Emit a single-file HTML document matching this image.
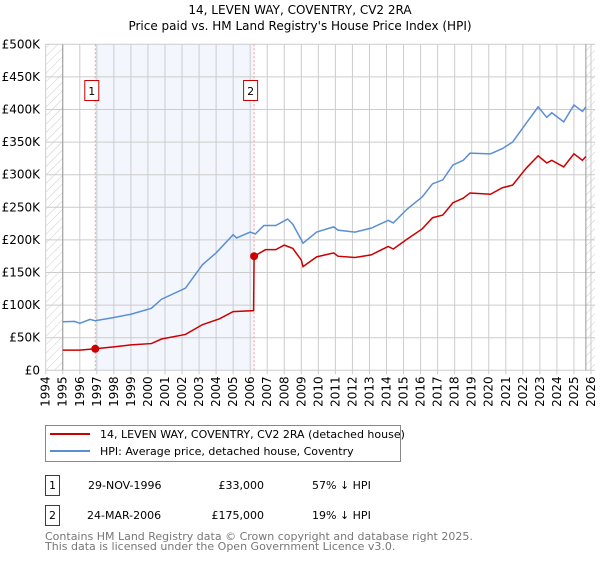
<!DOCTYPE html>
<html><head><meta charset="utf-8"><style>
body{margin:0;background:#fff;font-family:"Liberation Sans","DejaVu Sans",sans-serif;}
svg text{font-family:"DejaVu Sans","Liberation Sans",sans-serif;}
</style></head><body>
<svg id="c" width="600" height="560" xmlns="http://www.w3.org/2000/svg">
<defs><pattern id="h" width="6" height="6" patternUnits="userSpaceOnUse" patternTransform="rotate(45)"><line x1="0" y1="0" x2="0" y2="6" stroke="#ccc" stroke-width="1"/></pattern></defs>
<text x="300" y="14" text-anchor="middle" font-size="12">14, LEVEN WAY, COVENTRY, CV2 2RA</text>
<text x="300" y="30" text-anchor="middle" font-size="12">Price paid vs. HM Land Registry's House Price Index (HPI)</text>
<g id="plot"></g>
<g>
<rect x="45.5" y="425.5" width="355" height="36" fill="#fff" stroke="#888"/>
<line x1="50" y1="434" x2="90" y2="434" stroke="#cc0000" stroke-width="2"/>
<text x="100" y="438" font-size="11">14, LEVEN WAY, COVENTRY, CV2 2RA (detached house)</text>
<line x1="50" y1="451" x2="90" y2="451" stroke="#5b8fd4" stroke-width="2"/>
<text x="100" y="455" font-size="11">HPI: Average price, detached house, Coventry</text>
</g>
<g font-size="11">
<rect x="45.5" y="475.5" width="14" height="20" fill="#fff" stroke="#cc0000"/><text x="52.5" y="489" text-anchor="middle">1</text>
<text x="88" y="489">29-NOV-1996</text><text x="264" y="489" text-anchor="end">£33,000</text><text x="312" y="489">57% ↓ HPI</text>
<rect x="45.5" y="505.5" width="14" height="20" fill="#fff" stroke="#cc0000"/><text x="52.5" y="519" text-anchor="middle">2</text>
<text x="87" y="519">24-MAR-2006</text><text x="264" y="519" text-anchor="end">£175,000</text><text x="312" y="519">19% ↓ HPI</text>
</g>
<text x="45" y="540" font-size="11" fill="#777">Contains HM Land Registry data © Crown copyright and database right 2025.</text>
<text x="45" y="550" font-size="11" fill="#777">This data is licensed under the Open Government Licence v3.0.</text>
</svg>
<script>
const hpiYears=[1995,1995.7,1996,1996.6,1996.9,1998,1999,2000.2,2000.8,2002.2,2003.2,2004,2005,2005.2,2006,2006.3,2006.8,2007.5,2008.2,2008.5,2009.0,2009.1,2009.9,2010.9,2011.15,2012.15,2013.1,2014.1,2014.4,2015.2,2016.1,2016.7,2017.3,2017.9,2018.5,2018.9,2020.1,2020.8,2021.4,2022.2,2022.9,2023.4,2023.7,2024.4,2025.0,2025.5,2025.7];
const hpiValues=[74.5,75,72,78,76,81,86,95,109,126,162,180,208,203,212,209,222,222,232,224,200,195,212,220,215,212,218,230,226,247,266,286,292,315,322,333,332,340,350,379,404,388,395,381,407,397,404];
const ppYears=[1995,1996,1996.91,1998,1999,2000.2,2000.8,2002.2,2003.2,2004.2,2005,2006.2,2006.23,2006.9,2007.5,2008,2008.5,2009.0,2009.1,2009.9,2010.9,2011.15,2012.15,2013.1,2014.1,2014.4,2015.2,2016.1,2016.7,2017.3,2017.9,2018.5,2018.9,2020.1,2020.8,2021.4,2022.2,2022.9,2023.4,2023.7,2024.4,2025.0,2025.5,2025.7];
const ppValues=[31,31,33,36,39,41,48,55,70,79,90,91.5,175,185,185,192,187,169,159,174,180,175,173,177,190,186,201,217,234,238,257,264,272,270,280,284,310,329,318,322,312,332,322,328];
const saleYears=[1996.91,2006.23];
const saleValues=[33,175];
const saleLabels=["1","2"];
const yTicks=[0,50,100,150,200,250,300,350,400,450,500];
const yTickLabels=["£0","£50K","£100K","£150K","£200K","£250K","£300K","£350K","£400K","£450K","£500K"];
const xTicks=[1994,1995,1996,1997,1998,1999,2000,2001,2002,2003,2004,2005,2006,2007,2008,2009,2010,2011,2012,2013,2014,2015,2016,2017,2018,2019,2020,2021,2022,2023,2024,2025,2026];

const NS="http://www.w3.org/2000/svg";
const X=y=>45.7+(y-1994)*17.04;
const Y=v=>370.3-v*0.652;
const g=document.getElementById('plot');
function mk(t,a,p){const e=document.createElementNS(NS,t);for(const k in a)e.setAttribute(k,a[k]);(p||g).appendChild(e);return e;}
let r=mk('rect',{x:X(saleYears[0]),y:Y(500),width:X(saleYears[1])-X(saleYears[0]),height:Y(0)-Y(500),fill:'#f3f6fd'});


r=mk('rect',{x:X(1994),y:Y(500),width:X(1995)-X(1994),height:Y(0)-Y(500),fill:'url(#h)'});


r=mk('rect',{x:X(2025.7),y:Y(500),width:595-X(2025.7),height:Y(0)-Y(500),fill:'url(#h)'});


yTicks.forEach((v,i)=>{
  let l=mk('line',{x1:X(1994),x2:595,y1:Y(v),y2:Y(v),stroke:'#ccc'});
  
  
  let t=mk('text',{x:40,y:Y(v)+4,'text-anchor':'end','font-size':12});
  t.textContent=yTickLabels[i];
  
  
});
xTicks.forEach(yr=>{
  let l=mk('line',{x1:X(yr),x2:X(yr),y1:Y(500),y2:Y(0)+4,stroke:'#ccc'});
  
  
  let t=mk('text',{x:0,y:0,'font-size':12,'text-anchor':'end',transform:`translate(${X(yr)+4},${Y(0)+6}) rotate(-90)`});
  t.textContent=yr;
  
  
});
let a=mk('line',{x1:X(1995),x2:X(1995),y1:Y(500),y2:Y(0),stroke:'#999'});


a=mk('line',{x1:X(2025.7),x2:X(2025.7),y1:Y(500),y2:Y(0),stroke:'#999'});


saleYears.forEach((s,i)=>{
  let l=mk('line',{x1:X(s),x2:X(s),y1:Y(500),y2:Y(0),stroke:'#f59a9a','stroke-dasharray':'2,2'});
  
  
  let b=mk('rect',{x:X(s)-10.5,y:80.5,width:14,height:20,fill:'#fff',stroke:'#cc0000'});
  
  
  let t=mk('text',{x:X(s)-3.5,y:95,'text-anchor':'middle','font-size':11});
  t.textContent=saleLabels[i];
  
  
});
let p=mk('polyline',{points:hpiYears.map((y,i)=>X(y)+','+Y(hpiValues[i])).join(' '),fill:'none',stroke:'#5b8fd4','stroke-width':1.5});


p=mk('polyline',{points:ppYears.map((y,i)=>X(y)+','+Y(ppValues[i])).join(' '),fill:'none',stroke:'#cc0000','stroke-width':1.5});


saleYears.forEach((s,i)=>{
  let c=mk('circle',{cx:X(s),cy:Y(saleValues[i]),r:4,fill:'#cc0000'});
  
  
});
</script>
</body></html>
